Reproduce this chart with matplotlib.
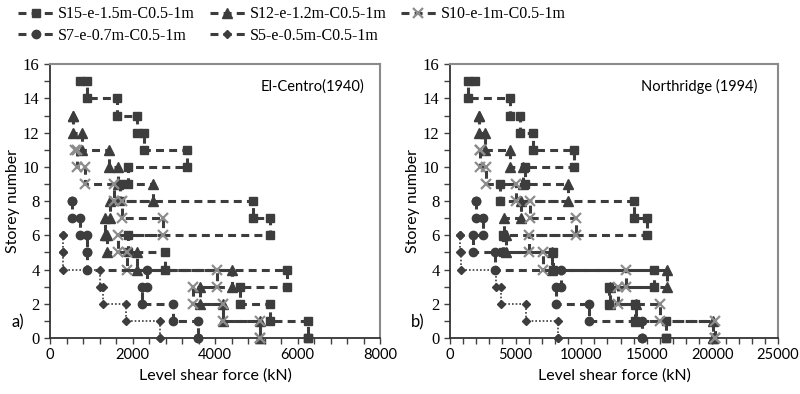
import matplotlib
matplotlib.use('Agg')
import matplotlib.pyplot as plt
from matplotlib.lines import Line2D
from matplotlib.ticker import MultipleLocator

names = ['S15-e-1.5m-C0.5-1m', 'S12-e-1.2m-C0.5-1m', 'S10-e-1m-C0.5-1m',
         'S7-e-0.7m-C0.5-1m', 'S5-e-0.5m-C0.5-1m']
tops = [15, 13, 11, 8, 6]

# level shear force (kN) at each step of the profile, from the roof down to the base
elcentro_s15 = [730, 900, 1620, 2110, 2280, 3310, 1900, 1700, 4920, 5330, 1900, 2790, 5740, 4600, 5330, 6260, 6260]
elcentro_s12 = [566, 566, 780, 1440, 1650, 2505, 1450, 1330, 1370, 2100, 4400, 3640, 4200, 5090, 5090]
elcentro_s10 = [606, 650, 850, 1550, 1740, 2743, 1656, 1860, 4040, 3475, 4200, 5090, 5090]
elcentro_s7 = [525, 525, 727, 889, 900, 2343, 2222, 2990, 3596, 3596]
elcentro_s5 = [307, 307, 323, 1212, 1290, 1842, 2667, 2667]

northridge_s15 = [1900, 1400, 4545, 5303, 6364, 9470, 5682, 3788, 14015, 15025, 4040, 7830, 15530, 12120, 14100, 16450, 16450]
northridge_s12 = [2222, 2222, 2650, 4600, 5555, 8964, 5430, 4100, 4293, 7800, 16515, 12200, 14140, 20075, 20075]
northridge_s10 = [2273, 2273, 2778, 5050, 6060, 9595, 6010, 7070, 13380, 12800, 16040, 20200, 20200]
northridge_s7 = [1970, 1970, 2525, 1768, 3409, 8460, 8080, 10606, 14645, 14645]
northridge_s5 = [758, 758, 808, 3535, 3914, 5757, 8207, 8207]

elcentro = [elcentro_s15, elcentro_s12, elcentro_s10, elcentro_s7, elcentro_s5]
northridge = [northridge_s15, northridge_s12, northridge_s10, northridge_s7, northridge_s5]

dark = '#3d3d3d'
markers = ['s', '^', 'x', 'o', 'D']
msizes = [6, 6.5, 7, 6, 4.5]
mcolors = [dark, dark, '#8c8c8c', dark, dark]
dashed = (0, (2.6, 1.7))
lstyles = [dashed, dashed, dashed, dashed, (0, (1, 1.2))]
lwidths = [2.2, 2.2, 2.2, 2.2, 1.2]


def stair(v, top):
    xs, ys = [], []
    for k in range(top + 1):
        xs += [v[k], v[k + 1]]
        ys += [top - k, top - k]
    return xs, ys


fig = plt.figure(figsize=(8, 3.94), dpi=100)
ax1 = fig.add_axes([0.0625, 0.142, 0.4125, 0.695])
ax2 = fig.add_axes([0.5625, 0.142, 0.41, 0.695])

for ax, data, xmax, xmaj, xmin in [(ax1, elcentro, 8000, 2000, 400),
                                   (ax2, northridge, 25000, 5000, 1000)]:
    for i, v in enumerate(data):
        xs, ys = stair(v, tops[i])
        ax.plot(xs, ys, color=dark, linestyle=lstyles[i], lw=lwidths[i],
                marker=markers[i], ms=msizes[i], mfc=mcolors[i], mec=mcolors[i],
                mew=1.6 if markers[i] == 'x' else 1, clip_on=False, zorder=3)
    ax.set_xlim(0, xmax)
    ax.set_ylim(0, 16)
    ax.xaxis.set_major_locator(MultipleLocator(xmaj))
    ax.xaxis.set_minor_locator(MultipleLocator(xmin))
    ax.yaxis.set_major_locator(MultipleLocator(2))
    ax.yaxis.set_minor_locator(MultipleLocator(1))
    ax.tick_params(which='both', direction='out', length=4, width=1, color='#404040')
    for lab in ax.get_xticklabels():
        lab.set_fontfamily('Lato')
        lab.set_fontsize(10.5)
    for lab in ax.get_yticklabels():
        lab.set_fontfamily('Liberation Serif')
        lab.set_fontsize(12)
    for s in ['top', 'right']:
        ax.spines[s].set_color('#8a8a8a')
        ax.spines[s].set_linewidth(1.5)
    for s in ['left', 'bottom']:
        ax.spines[s].set_color('#333333')
        ax.spines[s].set_linewidth(1.3)
    ax.set_xlabel('Level shear force (kN)', fontfamily='Lato', fontsize=11.5, labelpad=4)
    ax.set_ylabel('Storey number', fontfamily='Lato', fontsize=11.5, labelpad=2)

ax1.text(0.795, 0.92, 'El-Centro(1940)', transform=ax1.transAxes, ha='center', va='center',
         fontfamily='Lato', fontsize=10.5)
ax2.text(0.76, 0.92, 'Northridge (1994)', transform=ax2.transAxes, ha='center', va='center',
         fontfamily='Lato', fontsize=10.5)
fig.text(0.015, 0.183, 'a)', fontfamily='Lato', fontsize=12, va='center')
fig.text(0.513, 0.183, 'b)', fontfamily='Lato', fontsize=12, va='center')

handles = []
for i in range(5):
    handles.append(Line2D([], [], color=dark, linestyle=dashed, lw=2.2, marker=markers[i],
                          ms=msizes[i], mfc=mcolors[i], mec=mcolors[i],
                          mew=1.6 if markers[i] == 'x' else 1))
order = [0, 3, 1, 4, 2]
fig.legend([handles[i] for i in order], [names[i] for i in order], ncol=3,
           loc='upper left', bbox_to_anchor=(0.005, 1.02), frameon=False,
           prop={'family': 'Liberation Serif', 'size': 11.5},
           handlelength=2.2, handletextpad=0.3, columnspacing=0.9, labelspacing=0.35,
           markerscale=1.0, numpoints=1)

fig.savefig('out.png', dpi=100)
